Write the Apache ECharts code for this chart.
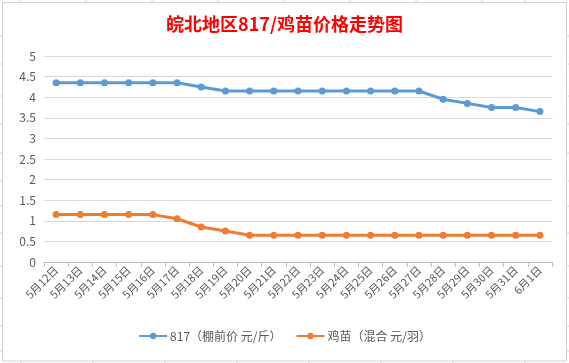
<!DOCTYPE html>
<html><head><meta charset="utf-8">
<script src="https://cdn.jsdelivr.net/npm/echarts@6/dist/echarts.min.js"></script>
<style>html,body{margin:0;padding:0;background:#fff}#c{width:569px;height:363px}</style>
</head><body><div id="c"></div>
<script>
const categories = ['5月12日','5月13日','5月14日','5月15日','5月16日','5月17日','5月18日','5月19日','5月20日','5月21日','5月22日','5月23日','5月24日','5月25日','5月26日','5月27日','5月28日','5月29日','5月30日','5月31日','6月1日'];
const price817 = [4.35,4.35,4.35,4.35,4.35,4.35,4.25,4.15,4.15,4.15,4.15,4.15,4.15,4.15,4.15,4.15,3.95,3.85,3.75,3.75,3.65];
const chick = [1.15,1.15,1.15,1.15,1.15,1.05,0.85,0.75,0.65,0.65,0.65,0.65,0.65,0.65,0.65,0.65,0.65,0.65,0.65,0.65,0.65];
const seriesNames = ['817（棚前价 元/斤）','鸡苗（混合 元/羽）'];
const titleText = '皖北地区817/鸡苗价格走势图';

const font = '"Noto Sans CJK SC", "Noto Sans", sans-serif';
const chart = echarts.init(document.getElementById('c'), null, {renderer:'canvas'});

// spreadsheet cell ticks outside the chart frame
const sheet = [];
const gc = '#d4d4d4';
[36,64,96,124,153,181,206,233,266,298,326,351].forEach(y=>{
  sheet.push({type:'line',shape:{x1:0,y1:y,x2:2,y2:y},style:{stroke:gc,lineWidth:1},silent:true});
  sheet.push({type:'line',shape:{x1:567,y1:y,x2:569,y2:y},style:{stroke:gc,lineWidth:1},silent:true});
});
[20,86,152,218,284,350,416,482,525].forEach(x=>{
  sheet.push({type:'line',shape:{x1:x,y1:0,x2:x,y2:2},style:{stroke:gc,lineWidth:1},silent:true});
});
[21,93,165,237,309,381,453,525].forEach(x=>{
  sheet.push({type:'line',shape:{x1:x,y1:361,x2:x,y2:363},style:{stroke:gc,lineWidth:1},silent:true});
});
sheet.push({type:'rect',shape:{x:2.5,y:2.5,width:564,height:358.5},style:{fill:'none',stroke:'#d0d0d0',lineWidth:1},silent:true});

chart.setOption({
  animation:false,
  backgroundColor:'#fff',
  title:{text:titleText,left:'center',top:10,textStyle:{color:'#ff0000',fontSize:18,fontWeight:'bold',fontFamily:font}},
  graphic:sheet,
  legend:{
    bottom:16,left:'center',itemWidth:28,itemHeight:8,itemGap:14,
    textStyle:{color:'#595959',fontSize:12,fontFamily:font,padding:[0,0,0,-2]},
    data:seriesNames
  },
  grid:{left:44,right:17,top:56,bottom:101,containLabel:false},
  xAxis:{
    type:'category',data:categories,boundaryGap:true,
    axisLine:{lineStyle:{color:'#bfbfbf',width:1}},
    axisTick:{show:true,length:5,lineStyle:{color:'#bfbfbf'}},
    axisLabel:{rotate:45,interval:0,color:'#595959',fontSize:11,fontFamily:font,margin:6}
  },
  yAxis:{
    type:'value',min:0,max:5,interval:0.5,
    axisLine:{show:false},axisTick:{show:false},
    splitLine:{lineStyle:{color:'#d9d9d9',width:1}},
    axisLabel:{color:'#595959',fontSize:12,fontFamily:font,margin:8}
  },
  series:[
    {name:seriesNames[0],type:'line',data:price817,symbol:'circle',symbolSize:7,
     lineStyle:{width:3,color:'#5b9bd5'},itemStyle:{color:'#5b9bd5'}},
    {name:seriesNames[1],type:'line',data:chick,symbol:'circle',symbolSize:7,
     lineStyle:{width:3,color:'#ed7d31'},itemStyle:{color:'#ed7d31'}}
  ]
});
</script></body></html>
